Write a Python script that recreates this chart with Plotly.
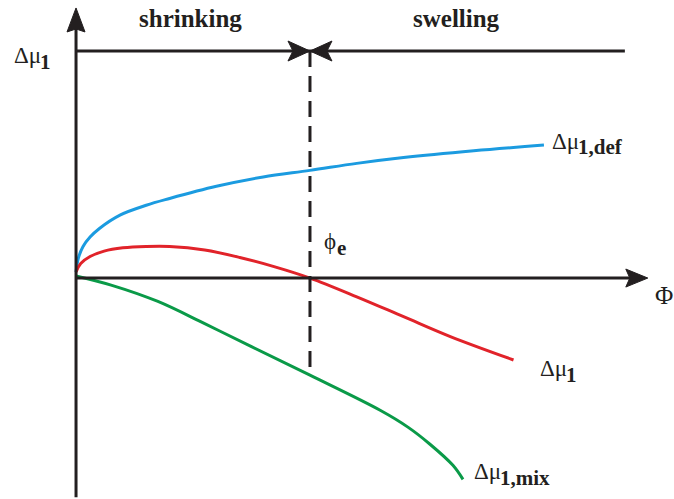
import plotly.graph_objects as go

# ---- data (normalised units: phi_e = 1 on x) ----
PHI_E = 1.0
phi_def = [0.0, 0.01, 0.03, 0.06, 0.10, 0.19, 0.30, 0.40, 0.60, 0.80, 1.0, 1.2, 1.4, 1.7, 2.0]
mu_def = [0.026, 0.085, 0.135, 0.175, 0.212, 0.270, 0.311, 0.340, 0.392, 0.432, 0.460, 0.490, 0.515, 0.544, 0.568]

phi_tot = [0.0, 0.02, 0.06, 0.12, 0.20, 0.30, 0.40, 0.55, 0.70, 0.85, 1.0, 1.2, 1.4, 1.6, 1.87]
mu_tot = [0.026, 0.062, 0.092, 0.115, 0.129, 0.135, 0.135, 0.120, 0.088, 0.048, 0.0, -0.080, -0.165, -0.250, -0.350]

phi_mix = [0.0, 0.15, 0.35, 0.55, 0.75, 1.0, 1.3, 1.42, 1.513, 1.611, 1.654]
mu_mix = [0.009, -0.030, -0.100, -0.195, -0.293, -0.415, -0.565, -0.638, -0.710, -0.800, -0.860]

region_labels = ["shrinking", "swelling"]
# label: main text, bold subscript
label_main = ["Δμ", "Δμ", "Δμ", "Δμ", "ϕ"]
label_sub = ["1", "1,def", "1", "1,mix", "e"]
label_x = [-0.273, 2.026, 1.974, 1.692, 1.051]
label_y = [0.949, 0.585, -0.387, -0.827, 0.155]
axis_name = "Φ"

# ---- frame geometry (axis units) ----
X_MIN, X_MAX = -0.325, 2.556
Y_MIN, Y_MAX = -0.944, 1.188
Y_AXIS_TIP = 1.154
Y_AXIS_BOTTOM = -0.936
X_AXIS_TIP = 2.444
Y_TOPLINE = 0.970
X_TOPLINE_END = 2.346

BLUE = "#1b9be0"
RED = "#e1232a"
GREEN = "#0a9a48"
INK = "#231f20"
SERIF = "Liberation Serif, Times New Roman, serif"

fig = go.Figure()
fig.add_trace(go.Scatter(x=phi_def, y=mu_def, mode="lines", line=dict(color=BLUE, width=3, shape="spline"), hoverinfo="skip"))
fig.add_trace(go.Scatter(x=phi_tot, y=mu_tot, mode="lines", line=dict(color=RED, width=3, shape="spline"), hoverinfo="skip"))
fig.add_trace(go.Scatter(x=phi_mix, y=mu_mix, mode="lines", line=dict(color=GREEN, width=3, shape="spline"), hoverinfo="skip"))

shapes = []
# axes
shapes.append(dict(type="line", x0=0, x1=0, y0=Y_AXIS_BOTTOM, y1=Y_AXIS_TIP - 0.05, line=dict(color=INK, width=3)))
shapes.append(dict(type="line", x0=0, x1=X_AXIS_TIP - 0.05, y0=0, y1=0, line=dict(color=INK, width=3)))
shapes.append(dict(type="line", x0=0, x1=X_TOPLINE_END, y0=Y_TOPLINE, y1=Y_TOPLINE, line=dict(color=INK, width=3)))
# dashed phi_e line, down to the mixing curve
mix_at_e = mu_mix[phi_mix.index(PHI_E)]
shapes.append(dict(type="line", x0=PHI_E, x1=PHI_E, y0=Y_TOPLINE, y1=mix_at_e, line=dict(color=INK, width=3, dash="16px,9px")))

def head(xa, ya, path):
    return dict(type="path", xsizemode="pixel", ysizemode="pixel", xanchor=xa, yanchor=ya,
                path=path, fillcolor=INK, line=dict(color=INK, width=1))

shapes.append(head(0, Y_AXIS_TIP, "M0,0 L-9,-24 L0,-21 L9,-24 Z"))
shapes.append(head(X_AXIS_TIP, 0, "M0,0 L-22,9 L-18,0 L-22,-9 Z"))
shapes.append(head(PHI_E, Y_TOPLINE, "M0,0 L-22,10 L-17,0 L-22,-10 Z"))
shapes.append(head(PHI_E, Y_TOPLINE, "M0,0 L22,10 L17,0 L22,-10 Z"))

ann = []
def txt(x, y, text, xanchor="left", size=23, bold=False, dx=0, dy=0):
    ann.append(dict(x=x, y=y, xref="x", yref="y", text=("<b>%s</b>" % text) if bold else text,
                    showarrow=False, xanchor=xanchor, yanchor="middle", xshift=dx, yshift=dy,
                    font=dict(family=SERIF, size=size, color=INK)))

txt(0.491, 1.108, region_labels[0], "center", 25, True)
txt(1.628, 1.108, region_labels[1], "center", 25, True)
for m, s, x, y in zip(label_main, label_sub, label_x, label_y):
    txt(x, y, m)
    off = 13 if m == "ϕ" else 26
    txt(x, y, s, size=21, bold=True, dx=off, dy=-6)
txt(2.468, -0.075, axis_name, size=25)

fig.update_layout(
    width=674, height=499, margin=dict(l=0, r=0, t=0, b=0),
    paper_bgcolor="white", plot_bgcolor="white", showlegend=False,
    xaxis=dict(range=[X_MIN, X_MAX], visible=False, fixedrange=True),
    yaxis=dict(range=[Y_MIN, Y_MAX], visible=False, fixedrange=True),
    shapes=shapes, annotations=ann,
)
fig.write_html("out.html")
